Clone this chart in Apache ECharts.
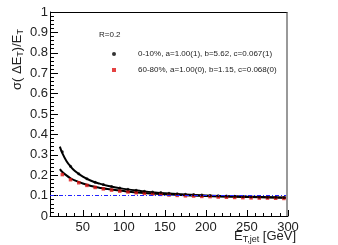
<!DOCTYPE html>
<html><head><meta charset="utf-8">
<script src="https://cdn.jsdelivr.net/npm/echarts@6/dist/echarts.min.js"></script>
<style>html,body{margin:0;padding:0;background:#fff}#wrap{position:relative;width:338px;height:245px}#c{width:338px;height:245px}
#frame{position:absolute;left:50px;top:12px;width:236px;height:203px;border-top:1px solid #000;border-right:2px solid #999;pointer-events:none}</style>
</head><body><div id="wrap"><div id="c"></div><div id="frame"></div></div>
<script>
var energies = [25,35,45,55,65,75,85,95,105,115,125,135,145,155,165,175,185,195,205,215,225,235,245,255,265,275,285,295];
var central = [0.315,0.244,0.207,0.183,0.166,0.154,0.144,0.137,0.131,0.126,0.121,0.118,0.115,0.112,0.109,0.107,0.105,0.103,0.101,0.099,0.098,0.097,0.095,0.094,0.093,0.092,0.092,0.091];
var peripheral = [0.203,0.178,0.163,0.150,0.140,0.133,0.127,0.122,0.118,0.114,0.111,0.108,0.106,0.103,0.101,0.099,0.098,0.096,0.095,0.093,0.092,0.091,0.090,0.089,0.088,0.088,0.087,0.086];
var fitE = [22,25,30,35,40,50,60,70,80,100,120,150,200,250,300];
var fitCentral = [0.340,0.308,0.270,0.243,0.222,0.193,0.173,0.159,0.148,0.133,0.123,0.112,0.101,0.095,0.090];
var fitPeripheral = [0.230,0.216,0.199,0.185,0.175,0.159,0.147,0.139,0.132,0.122,0.114,0.107,0.098,0.093,0.089];
var refLevel = 0.1;
var xRange = [10,300];
var yRange = [0,1];
var xTickMajor = [50,100,150,200,250,300];
var legendNames = ['0-10%, a=1.00(1), b=5.62, c=0.067(1)', '60-80%, a=1.00(0), b=1.15, c=0.068(0)'];
var radiusLabel = 'R=0.2';

function zip(a,b){return a.map(function(v,i){return [v,b[i]];});}
var font = 'Liberation Sans, Arial, Helvetica, sans-serif';
var chart = echarts.init(document.getElementById('c'), null, {renderer:'canvas'});
chart.setOption({
  animation:false,
  backgroundColor:'#fff',
  grid:{left:50,right:50,top:12,bottom:29,containLabel:false,outerBoundsMode:'none'},
  xAxis:[{
    type:'value',min:xRange[0],max:xRange[1],interval:10,position:'bottom',
    axisLine:{show:true,onZero:false,lineStyle:{color:'#000',width:1}},
    axisTick:{show:true,inside:true,length:3,lineStyle:{color:'#000'}},
    axisLabel:{show:true,margin:5,color:'#222',fontSize:13,fontFamily:font,
      formatter:function(v){return v%50===0?String(v):'';}},
    splitLine:{show:false}
  },{
    type:'value',min:xRange[0],max:xRange[1],position:'bottom',
    axisLine:{show:false,onZero:false},
    axisTick:{show:true,inside:true,length:6,customValues:xTickMajor,lineStyle:{color:'#000'}},
    axisLabel:{show:false},splitLine:{show:false}
  }],
  yAxis:[{
    type:'value',min:yRange[0],max:yRange[1],interval:0.1,position:'left',
    axisLine:{show:true,onZero:false,lineStyle:{color:'#000',width:1}},
    axisTick:{show:true,inside:true,length:8,lineStyle:{color:'#000'}},
    minorTick:{show:true,splitNumber:5,length:4,lineStyle:{color:'#000'}},
    axisLabel:{margin:2,color:'#222',fontSize:13,fontFamily:font},
    splitLine:{show:false}
  }],
  legend:{
    orient:'vertical',left:107,top:44,itemGap:6,itemWidth:4,itemHeight:4,
    textStyle:{fontSize:8,fontFamily:font,color:'#222',lineHeight:10,padding:[0,0,0,17]},
    data:[{name:legendNames[0],icon:'circle'},{name:legendNames[1],icon:'rect'}]
  },
  graphic:[
    {type:'text',x:99,y:35,style:{text:radiusLabel,font:'8px '+font,fill:'#222',verticalAlign:'middle'}},
    {type:'text',x:17,y:90,rotation:Math.PI/2,style:{
      text:'{m|σ( ΔE}{s|T}{m|)/E}{s|T}',verticalAlign:'middle',align:'left',
      rich:{m:{fontSize:13,fontFamily:font,fill:'#222'},s:{fontSize:9,fontFamily:font,fill:'#222',padding:[7,0,0,0]}}}},
    {type:'text',x:296,y:236,style:{
      text:'{m|E}{s|T,jet}{m| [GeV]}',verticalAlign:'middle',align:'right',
      rich:{m:{fontSize:13,fontFamily:font,fill:'#222'},s:{fontSize:9,fontFamily:font,fill:'#222',padding:[7,0,0,0]}}}}
  ],
  series:[
    {name:'fitC',type:'line',data:zip(fitE,fitCentral),smooth:0.4,showSymbol:false,lineStyle:{color:'#000',width:2},z:2,
      markLine:{silent:true,symbol:'none',label:{show:false},lineStyle:{color:'#2222ff',type:[4,2,1,2],width:1},data:[{yAxis:refLevel}]}},
    {name:'fitP',type:'line',data:zip(fitE,fitPeripheral),smooth:0.4,showSymbol:false,lineStyle:{color:'#000',width:2},z:2},
    {name:legendNames[0],type:'scatter',data:zip(energies,central),symbol:'circle',symbolSize:3,itemStyle:{color:'#000'},z:4},
    {name:legendNames[1],type:'scatter',data:zip(energies,peripheral),symbol:'rect',symbolSize:3.5,itemStyle:{color:'#dd1111'},z:3}
  ]
});
</script></body></html>
